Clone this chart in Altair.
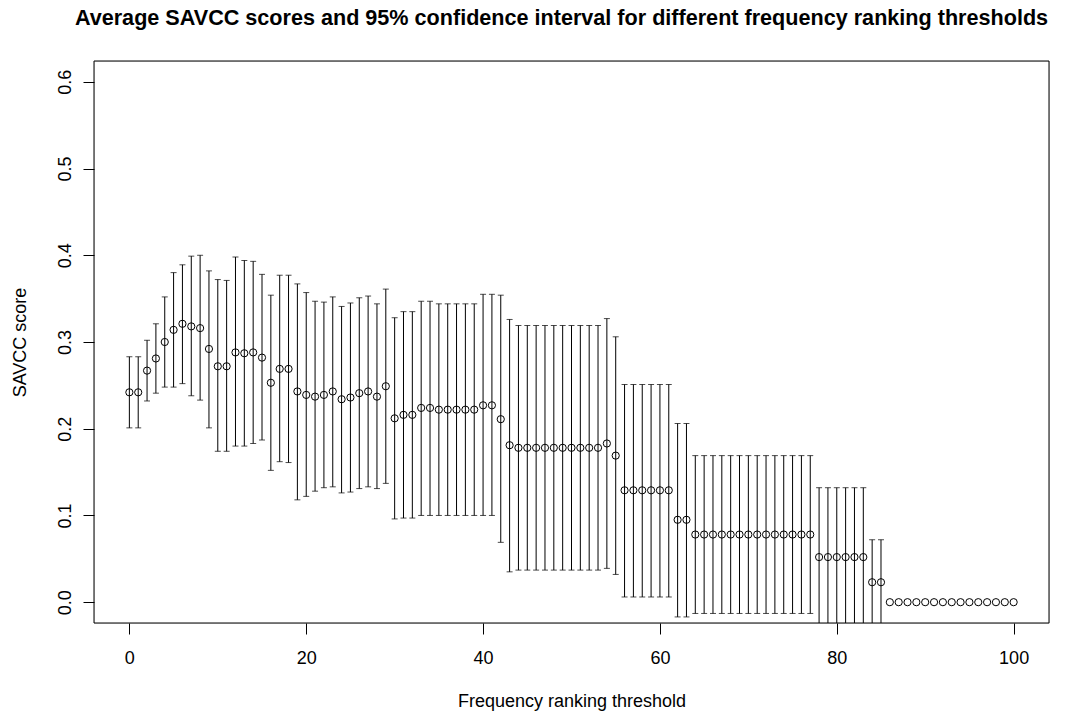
import altair as alt
import pandas as pd

thresholds = list(range(0, 101))

mean_score = [
    0.242, 0.242, 0.267, 0.281, 0.300, 0.314, 0.321, 0.318, 0.316, 0.292,
    0.272, 0.272, 0.288, 0.287, 0.288, 0.282, 0.253, 0.269, 0.269, 0.243,
    0.239, 0.237, 0.239, 0.243, 0.234, 0.236, 0.241, 0.243, 0.237, 0.249,
    0.212, 0.216, 0.216, 0.224, 0.224, 0.222, 0.222, 0.222, 0.222, 0.222,
    0.227, 0.227, 0.211, 0.181, 0.178, 0.178, 0.178, 0.178, 0.178, 0.178,
    0.178, 0.178, 0.178, 0.178, 0.183, 0.169, 0.129, 0.129, 0.129, 0.129,
    0.129, 0.129, 0.095, 0.095, 0.078, 0.078, 0.078, 0.078, 0.078, 0.078,
    0.078, 0.078, 0.078, 0.078, 0.078, 0.078, 0.078, 0.078, 0.052, 0.052,
    0.052, 0.052, 0.052, 0.052, 0.023, 0.023, 0.0, 0.0, 0.0, 0.0,
    0.0, 0.0, 0.0, 0.0, 0.0, 0.0, 0.0, 0.0, 0.0, 0.0,
    0.0,
]

ci_upper = [
    0.283, 0.283, 0.302, 0.321, 0.352, 0.380, 0.389, 0.399, 0.400, 0.382,
    0.372, 0.371, 0.398, 0.394, 0.393, 0.378, 0.354, 0.377, 0.377, 0.367,
    0.357, 0.347, 0.346, 0.352, 0.341, 0.345, 0.351, 0.353, 0.344, 0.361,
    0.328, 0.335, 0.335, 0.347, 0.347, 0.344, 0.344, 0.344, 0.344, 0.344,
    0.355, 0.355, 0.354, 0.326, 0.319, 0.319, 0.319, 0.319, 0.319, 0.319,
    0.319, 0.319, 0.319, 0.319, 0.327, 0.306, 0.251, 0.251, 0.251, 0.251,
    0.251, 0.251, 0.206, 0.206, 0.169, 0.169, 0.169, 0.169, 0.169, 0.169,
    0.169, 0.169, 0.169, 0.169, 0.169, 0.169, 0.169, 0.169, 0.132, 0.132,
    0.132, 0.132, 0.132, 0.132, 0.072, 0.072,
]

ci_lower = [
    0.201, 0.201, 0.232, 0.241, 0.248, 0.248, 0.252, 0.238, 0.233, 0.201,
    0.174, 0.174, 0.180, 0.180, 0.183, 0.187, 0.152, 0.162, 0.161, 0.118,
    0.122, 0.128, 0.132, 0.133, 0.126, 0.127, 0.131, 0.133, 0.131, 0.137,
    0.096, 0.097, 0.097, 0.100, 0.100, 0.100, 0.100, 0.100, 0.100, 0.100,
    0.100, 0.100, 0.069, 0.035, 0.037, 0.037, 0.037, 0.037, 0.037, 0.037,
    0.037, 0.037, 0.037, 0.037, 0.039, 0.032, 0.006, 0.006, 0.006, 0.006,
    0.006, 0.006, -0.017, -0.017, -0.013, -0.013, -0.013, -0.013, -0.013, -0.013,
    -0.013, -0.013, -0.013, -0.013, -0.013, -0.013, -0.013, -0.013, -0.028, -0.028,
    -0.028, -0.028, -0.028, -0.028, -0.027, -0.027,
]

x_ticks = [0, 20, 40, 60, 80, 100]
y_ticks = [0.0, 0.1, 0.2, 0.3, 0.4, 0.5, 0.6]

pts = pd.DataFrame({"threshold": thresholds, "score": mean_score})
n_ci = len(ci_upper)
ci = pd.DataFrame({
    "threshold": thresholds[:n_ci],
    "lower": ci_lower,
    "upper": ci_upper,
})

FONT = "Liberation Sans"

xscale = alt.Scale(domain=[-4, 104], nice=False, zero=False)
yscale = alt.Scale(domain=[-0.024, 0.624], nice=False, zero=False)

xaxis = alt.Axis(
    values=x_ticks, title="Frequency ranking threshold", grid=False, domain=False,
    tickColor="black", tickSize=11, tickWidth=1, labelFontSize=18, labelFont=FONT,
    labelColor="black", labelBaseline="alphabetic", labelPadding=29, labelFlush=False,
    titleFontSize=18, titleFont=FONT, titleFontWeight="normal", titleColor="black",
    titleBaseline="alphabetic", titleY=83, titleX=477.5, titleAnchor="middle",
)
yaxis = alt.Axis(
    values=y_ticks, title="SAVCC score", grid=False, domain=False, format=".1f",
    tickColor="black", tickSize=11, tickWidth=1, labelFontSize=18, labelFont=FONT,
    labelColor="black", labelAngle=-90, labelAlign="center", labelBaseline="alphabetic",
    labelPadding=13, labelFlush=False,
    titleFontSize=18, titleFont=FONT, titleFontWeight="normal", titleColor="black",
    titleAngle=-90, titleBaseline="alphabetic", titleX=-69, titleY=281, titleAlign="center",
)

x_enc = alt.X("threshold:Q", scale=xscale, axis=xaxis)

# plot frame (R box())
frame = alt.Chart(pd.DataFrame({"a": [0]})).mark_rect(
    fill=None, stroke="black", strokeWidth=1
).encode(
    x=alt.value(0), x2=alt.value(955), y=alt.value(0), y2=alt.value(562)
)

rules = alt.Chart(ci).mark_rule(color="black", strokeWidth=1, clip=True).encode(
    x=x_enc,
    y=alt.Y("lower:Q", scale=yscale, axis=yaxis),
    y2="upper:Q",
)
cap_up = alt.Chart(ci).mark_tick(color="black", orient="horizontal", size=6,
                                 thickness=1, clip=True).encode(
    x=alt.X("threshold:Q", scale=xscale),
    y=alt.Y("upper:Q", scale=yscale),
)
cap_lo = alt.Chart(ci).mark_tick(color="black", orient="horizontal", size=6,
                                 thickness=1, clip=True).encode(
    x=alt.X("threshold:Q", scale=xscale),
    y=alt.Y("lower:Q", scale=yscale),
)
points = alt.Chart(pts).mark_point(shape="circle", filled=False, color="black",
                                   size=52, strokeWidth=1, opacity=1).encode(
    x=alt.X("threshold:Q", scale=xscale),
    y=alt.Y("score:Q", scale=yscale),
)

chart = alt.layer(rules, cap_up, cap_lo, points, frame).properties(
    width=955,
    height=562,
    title=alt.TitleParams(
        text="Average SAVCC scores and 95% confidence interval for different frequency ranking thresholds",
        font=FONT, fontSize=21.6, fontWeight="bold", color="black",
        anchor="middle", baseline="alphabetic", offset=14, dx=-10,
    ),
    autosize=alt.AutoSizeParams(type="none"),
    padding={"left": 94, "top": 61, "right": 21, "bottom": 89},
).configure_view(
    stroke=None, fill="white"
).configure(
    background="white"
)

chart.save("out.html", embed_options={"renderer": "svg", "actions": False})
